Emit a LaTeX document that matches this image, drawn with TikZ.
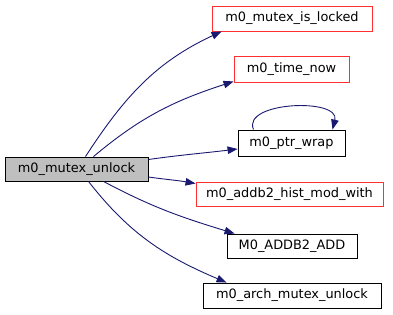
\documentclass[tikz,border=0pt]{standalone}
\usepackage{fontspec}
\setmainfont{DejaVu Sans}
\usetikzlibrary{arrows.meta}
\definecolor{edgeblue}{HTML}{191970}
\definecolor{mainfill}{HTML}{BFBFBF}
\definecolor{redline}{HTML}{FF3030}
\tikzset{
  fn/.style={draw=black, fill=white, line width=0.9pt, inner sep=0pt,
    font=\fontsize{12.9}{15}\selectfont, anchor=center},
  redfn/.style={fn, draw=redline},
  mainfn/.style={fn, fill=mainfill},
  call/.style={draw=edgeblue, line width=0.9pt,
    -{Triangle[length=10pt,width=7.5pt]}}
}
\begin{document}
\begin{tikzpicture}[x=1pt,y=-1pt]
\useasboundingbox (0,0) rectangle (393,315);
\node[mainfn, minimum width=143pt, minimum height=24pt] (mu) at (76.5,169) {m0\_mutex\_unlock};
\node[redfn, minimum width=160pt, minimum height=25pt] (il) at (292,18.5) {m0\_mutex\_is\_locked};
\node[redfn, minimum width=115pt, minimum height=26pt] (tn) at (291.5,69) {m0\_time\_now};
\node[fn, minimum width=107pt, minimum height=26pt] (pw) at (291.5,143) {m0\_ptr\_wrap};
\node[redfn, minimum width=187pt, minimum height=24pt] (hm) at (289.5,194) {m0\_addb2\_hist\_mod\_with};
\node[fn, minimum width=130pt, minimum height=24pt] (ad) at (292,246) {M0\_ADDB2\_ADD};
\node[fn, minimum width=178pt, minimum height=25pt] (am) at (292,295.5) {m0\_arch\_mutex\_unlock};

\draw[call] ([xshift=9pt]mu.north) to[out=57,in=205] ([xshift=10pt]il.south west);
\draw[call] ([xshift=17pt]mu.north) to[out=40,in=198] ([yshift=1pt]tn.south west);
\draw[call] ([yshift=9.5pt]mu.east) to[out=8,in=187] ([yshift=-6pt]pw.west);
\draw[call] ([yshift=-8pt]mu.east) to[out=-8,in=170] ([yshift=-2pt]hm.north west);
\draw[call] ([xshift=27pt]mu.south) to[out=-28,in=163] ([xshift=8pt]ad.north west);
\draw[call] ([xshift=12pt]mu.south) to[out=-52,in=157] ([xshift=24pt]am.north west);
\draw[call] ([xshift=-38pt]pw.north) .. controls +(-12,-28) and +(8,-32) .. ([xshift=41pt]pw.north);
\end{tikzpicture}
\end{document}
